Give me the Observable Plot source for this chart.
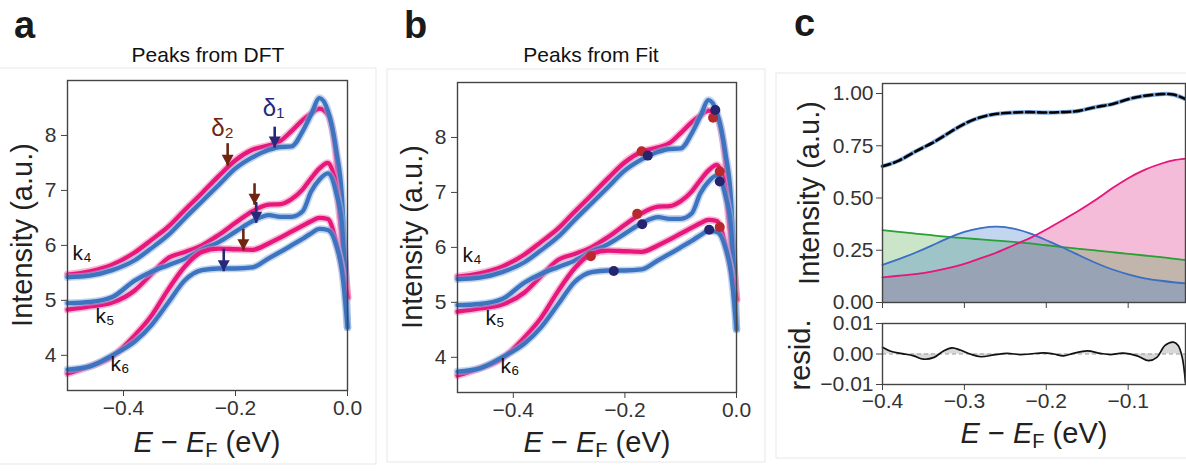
<!DOCTYPE html>
<html><head><meta charset="utf-8">
<script src="https://cdn.jsdelivr.net/npm/d3@7"></script>
<script src="https://cdn.jsdelivr.net/npm/@observablehq/plot@0.6"></script>
<style>
body{margin:0;background:#fff;width:1186px;height:471px;overflow:hidden;position:relative;font-family:"Liberation Sans",Arial,sans-serif;}
.pos{position:absolute;}
</style></head><body>
<script>
// ---------- Panels a & b : EDCs ----------
const energy = [-0.50,-0.46,-0.42,-0.38,-0.35,-0.32,-0.29,-0.26,-0.23,-0.20,-0.17,-0.14,-0.12,-0.10,-0.08,-0.065,-0.05,-0.035,-0.02,-0.01,0];
const k4Pink = [5.47,5.53,5.65,5.87,6.10,6.34,6.65,6.95,7.26,7.55,7.74,7.82,7.90,8.08,8.28,8.40,8.49,8.38,7.60,6.40,5.05];
const k4Blue = [5.42,5.45,5.55,5.73,5.95,6.19,6.50,6.80,7.10,7.40,7.60,7.74,7.79,7.80,8.08,8.38,8.68,8.45,7.72,6.90,4.51];
const k5Pink = [4.83,4.89,4.96,5.18,5.48,5.77,5.88,6.00,6.19,6.41,6.62,6.74,6.75,6.84,7.02,7.22,7.40,7.50,7.05,6.15,5.05];
const k5Blue = [4.95,4.97,5.06,5.36,5.52,5.64,5.76,5.92,6.06,6.25,6.44,6.55,6.52,6.52,6.62,6.98,7.20,7.31,6.95,6.40,4.51];
const k6Pink = [3.67,3.80,3.98,4.36,4.72,5.20,5.62,5.88,5.94,5.93,5.92,6.04,6.14,6.25,6.36,6.44,6.50,6.48,6.05,5.60,5.05];
const k6Blue = [3.74,3.80,4.00,4.25,4.55,4.96,5.37,5.55,5.58,5.58,5.60,5.77,5.88,6.00,6.12,6.22,6.30,6.28,6.00,5.55,4.51];

const kLabelE = [-0.491,-0.450,-0.423];
const kLabelI = [5.85,4.71,3.83];
const kLabelText = ["k₄","k₅","k₆"];

// panel a arrows (DFT peaks)
const arrowE = [-0.214,-0.130,-0.166,-0.163,-0.186,-0.221];
const arrowTop = [7.86,8.16,7.13,6.79,6.30,5.94];
const arrowTip = [7.45,7.78,6.74,6.41,5.91,5.53];
const arrowKind = ["δ2","δ1","δ2","δ1","δ2","δ1"];
const deltaLabelE = [-0.229,-0.137];
const deltaLabelI = [8.13,8.49];
const deltaLabelText = ["δ₂","δ₁"];
const deltaLabelKind = ["δ2","δ1"];

// panel b fitted peaks
const fitPeakE = [-0.042,-0.038,-0.170,-0.159,-0.030,-0.030,-0.178,-0.169,-0.049,-0.030,-0.261,-0.220];
const fitPeakI = [8.36,8.50,7.75,7.67,7.38,7.20,6.61,6.42,6.32,6.37,5.84,5.57];
const fitPeakKind = ["δ2","δ1","δ2","δ1","δ2","δ1","δ2","δ1","δ1","δ2","δ2","δ1"];

// ---------- Panel c : fit ----------
const cE = [-0.40,-0.38,-0.36,-0.34,-0.32,-0.30,-0.28,-0.26,-0.24,-0.22,-0.20,-0.18,-0.16,-0.14,-0.12,-0.10,-0.08,-0.06,-0.045,-0.03];
const cData = [0.652,0.679,0.722,0.762,0.809,0.855,0.887,0.903,0.909,0.911,0.909,0.911,0.917,0.935,0.949,0.973,0.989,0.997,0.995,0.974];
const cPeakPink = [0.120,0.128,0.136,0.148,0.164,0.185,0.212,0.240,0.274,0.308,0.349,0.394,0.440,0.490,0.545,0.595,0.635,0.664,0.680,0.688];
const cPeakBlue = [0.180,0.208,0.238,0.272,0.308,0.338,0.356,0.363,0.354,0.331,0.298,0.263,0.226,0.190,0.159,0.135,0.116,0.104,0.097,0.092];
const cBackground = [0.346,0.338,0.330,0.322,0.314,0.308,0.302,0.296,0.290,0.283,0.274,0.265,0.257,0.249,0.241,0.233,0.225,0.217,0.210,0.203];

const residE = [-0.40,-0.39,-0.378,-0.362,-0.35,-0.337,-0.325,-0.315,-0.305,-0.293,-0.28,-0.264,-0.248,-0.232,-0.22,-0.203,-0.191,-0.179,-0.167,-0.15,-0.134,-0.122,-0.106,-0.089,-0.075,-0.065,-0.055,-0.045,-0.039,-0.034,-0.03];
const residV = [0.0022,0.0009,0.0002,-0.0006,-0.0017,-0.0011,0.0011,0.0020,0.0013,0.0000,-0.0009,-0.0003,0.0002,-0.0002,0.0000,0.0004,0.0000,-0.0006,0.0002,0.0010,0.0002,-0.0002,0.0003,-0.0006,-0.0022,-0.0011,0.0028,0.0039,0.0028,-0.0011,-0.0094];

// ---------- styles ----------
const PINK = "#e8177c", PINK_HALO = "#f37fb2";
const BLUE = "#3d74c0", BLUE_HALO = "#8fb3e2";
const kindColor = {"δ1":"#27287a","δ2":"#6e2512"};
const dotColor = {"δ1":"#24246f","δ2":"#b8282c"};
const FONT = '"Liberation Sans", Arial, sans-serif';
const baseStyle = {fontFamily: FONT, fontSize: "21px", color: "#333", background: "transparent", overflow: "visible"};

const series = [
  {values:k4Pink, color:PINK, halo:PINK_HALO},
  {values:k4Blue, color:BLUE, halo:BLUE_HALO},
  {values:k5Pink, color:PINK, halo:PINK_HALO},
  {values:k5Blue, color:BLUE, halo:BLUE_HALO},
  {values:k6Pink, color:PINK, halo:PINK_HALO},
  {values:k6Blue, color:BLUE, halo:BLUE_HALO}
];

const downTriangle = {draw(ctx, size){ const r = Math.sqrt(size/Math.PI); const w = r*1.3, h = r*2.4; ctx.moveTo(-w,-h); ctx.lineTo(w,-h); ctx.lineTo(0,0); ctx.closePath(); }};

function place(svg, left, top){ svg.classList.add("pos"); svg.style.left = left+"px"; svg.style.top = top+"px"; document.body.appendChild(svg); return svg; }

function edcPanel(mode){
  const marks = [];
  for (const s of series){
    const rows = energy.map((E,i)=>({E, I:s.values[i]}));
    marks.push(Plot.line(rows,{x:"E",y:"I",stroke:s.halo,strokeWidth:7.5,strokeOpacity:0.55,curve:"monotone-x"}));
    marks.push(Plot.line(rows,{x:"E",y:"I",stroke:s.color,strokeWidth:4.3,curve:"monotone-x"}));
  }
  const kl = kLabelE.map((E,i)=>({E, I:kLabelI[i], t:kLabelText[i]}));
  marks.push(Plot.text(kl,{x:"E",y:"I",text:"t",textAnchor:"start",fontSize:21,fill:"#111"}));
  if (mode === "a"){
    const ar = arrowE.map((E,i)=>({E, y1:arrowTop[i], y2:arrowTip[i], c:kindColor[arrowKind[i]]}));
    marks.push(Plot.link(ar,{x1:"E",x2:"E",y1:"y1",y2:"y2",stroke:d=>d.c,strokeWidth:2.6}));
    marks.push(Plot.dot(ar,{x:"E",y:"y2",symbol:downTriangle,r:4.6,fill:d=>d.c,stroke:"none"}));
    const dl = deltaLabelE.map((E,i)=>({E, I:deltaLabelI[i], t:deltaLabelText[i], c:kindColor[deltaLabelKind[i]]}));
    marks.push(Plot.text(dl,{x:"E",y:"I",text:"t",fill:d=>d.c,fontSize:24,textAnchor:"start",dx:-8}));
  } else {
    const dp = fitPeakE.map((E,i)=>({E, I:fitPeakI[i], c:dotColor[fitPeakKind[i]]}));
    marks.push(Plot.dot(dp,{x:"E",y:"I",r:5,fill:d=>d.c,stroke:"none"}));
  }
  marks.push(Plot.axisX({ticks:[-0.4,-0.2,0],tickFormat:d3.format(".1f"),tickSize:6,tickPadding:4,label:null,stroke:"#444"}));
  marks.push(Plot.axisY({ticks:[4,5,6,7,8],tickFormat:d3.format("d"),tickSize:6,tickPadding:5,label:null,stroke:"#444"}));
  marks.push(Plot.frame({stroke:"#444",strokeWidth:1.4}));
  return Plot.plot({
    width: mode==="a"?380:390, height: 471,
    marginLeft: mode==="a"?67:77, marginRight: mode==="a"?33:34, marginTop:80, marginBottom:81,
    x:{domain:[-0.5,0]}, y:{domain:[3.36,9.0]},
    style: baseStyle, marks
  });
}

place(edcPanel("a"), 0, 0);
place(edcPanel("b"), 380, 2);

// panel c top
const cRows = cE.map((E,i)=>({E, data:cData[i], pink:cPeakPink[i], blue:cPeakBlue[i], green:cBackground[i]}));
const cTop = Plot.plot({
  width:410, height:312, marginLeft:106, marginRight:1, marginTop:83, marginBottom:10,
  x:{domain:[-0.4,-0.03]}, y:{domain:[0,1.048]},
  style: baseStyle,
  marks:[
    Plot.areaY(cRows,{x:"E",y1:0,y2:"pink",fill:"#da207d",fillOpacity:0.3,curve:"natural"}),
    Plot.areaY(cRows,{x:"E",y1:0,y2:"green",fill:"#4fa845",fillOpacity:0.3,curve:"natural"}),
    Plot.areaY(cRows,{x:"E",y1:0,y2:"blue",fill:"#3776ca",fillOpacity:0.3,curve:"natural"}),
    Plot.line(cRows,{x:"E",y:"green",stroke:"#27a034",strokeWidth:1.8,curve:"natural"}),
    Plot.line(cRows,{x:"E",y:"blue",stroke:"#3b6fc2",strokeWidth:1.8,curve:"natural"}),
    Plot.line(cRows,{x:"E",y:"pink",stroke:"#e8157d",strokeWidth:1.8,curve:"natural"}),
    Plot.line(cRows,{x:"E",y:"data",stroke:"#7fa9e0",strokeWidth:4.2,curve:"natural"}),
    Plot.line(cRows,{x:"E",y:"data",stroke:"#000",strokeWidth:2.6,strokeDasharray:"8,4",curve:"natural"}),
    Plot.axisX({ticks:[-0.4,-0.3,-0.2,-0.1],tickSize:6,label:null,stroke:"#444"}),
    Plot.axisY({ticks:[0,0.25,0.5,0.75,1.0],tickFormat:d3.format(".2f"),tickSize:6,tickPadding:3,label:null,stroke:"#444"}),
    Plot.frame({stroke:"#444",strokeWidth:1.4})
  ]
});
cTop.querySelectorAll('g[aria-label="x-axis tick label"]').forEach(n=>n.remove());
place(cTop, 776, 0);

// residual
const rRows = residE.map((E,i)=>({E, r:residV[i]}));
const cRes = Plot.plot({
  width:410, height:159, marginLeft:106, marginRight:1, marginTop:11, marginBottom:87,
  x:{domain:[-0.4,-0.03]}, y:{domain:[-0.01,0.01]},
  style: baseStyle,
  marks:[
    Plot.areaY(rRows,{x:"E",y1:0,y2:"r",fill:"#c8c8c8",fillOpacity:0.7,curve:"catmull-rom"}),
    Plot.ruleY([0],{stroke:"#999",strokeWidth:1,strokeDasharray:"4,3"}),
    Plot.line(rRows,{x:"E",y:"r",stroke:"#111",strokeWidth:1.7,curve:"catmull-rom"}),
    Plot.axisX({ticks:[-0.4,-0.3,-0.2,-0.1],tickFormat:d3.format(".1f"),tickSize:6,tickPadding:3,label:null,stroke:"#444"}),
    Plot.axisY({ticks:[-0.01,0,0.01],tickFormat:d3.format(".2f"),tickSize:6,tickPadding:3,label:null,stroke:"#444"}),
    Plot.frame({stroke:"#444",strokeWidth:1.4})
  ]
});
place(cRes, 776, 312);

// ---------- overlay: panel boxes, letters, titles, axis labels ----------
const ov = d3.select(document.body).append("svg").attr("class","pos")
  .attr("width",1186).attr("height",471).style("left","0px").style("top","0px")
  .style("pointer-events","none").style("font-family",FONT);
const boxes = [[-5,68,381,396],[387,69,378,393],[776,73,420,385]];
ov.selectAll("rect").data(boxes).join("rect")
  .attr("x",d=>d[0]).attr("y",d=>d[1]).attr("width",d=>d[2]).attr("height",d=>d[3])
  .attr("fill","none").attr("stroke","#ebebeb").attr("stroke-width",1.2);
const letters = [["a",14,38],["b",404,38],["c",794,36]];
letters.forEach(([t,x,y])=>ov.append("text").attr("x",x).attr("y",y).attr("font-size",38).attr("font-weight","bold").attr("fill","#1a1a1a").text(t));
const titles = [["Peaks from DFT",208,62],["Peaks from Fit",591,62]];
titles.forEach(([t,x,y])=>ov.append("text").attr("x",x).attr("y",y).attr("font-size",21).attr("text-anchor","middle").attr("fill","#111").text(t));
const yLabels = [["Intensity (a.u.)",32,235],["Intensity (a.u.)",422,237],["Intensity (a.u.)",819,193],["resid.",810,355]];
yLabels.forEach(([t,x,y])=>ov.append("text").attr("transform",`translate(${x},${y}) rotate(-90)`).attr("font-size",29).attr("text-anchor","middle").attr("fill","#222").text(t));
const xLabels = [[207,452],[597,452],[1034,443]];
xLabels.forEach(([x,y])=>{
  const t = ov.append("text").attr("x",x).attr("y",y).attr("font-size",29).attr("text-anchor","middle").attr("fill","#222");
  t.append("tspan").attr("font-style","italic").text("E");
  t.append("tspan").text(" − ");
  t.append("tspan").attr("font-style","italic").text("E");
  t.append("tspan").attr("font-size",20).attr("dy",5).text("F");
  t.append("tspan").attr("dy",-5).text(" (eV)");
});
</script>
</body></html>
